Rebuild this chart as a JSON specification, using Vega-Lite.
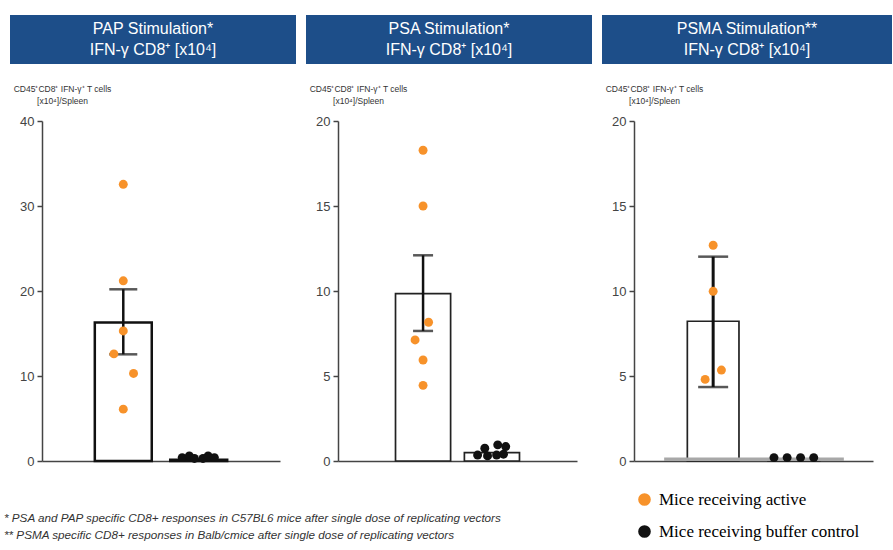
{
  "$schema": "https://vega.github.io/schema/vega-lite/v6.json",
  "padding": {"left": 4, "top": 15, "right": 0, "bottom": 0},
  "background": "white",
  "config": {
    "view": {"stroke": null},
    "font": "Liberation Sans",
    "legend": {"orient": "none", "legendX": 626, "legendY": 476, "symbolType": "circle", "symbolSize": 160, "labelFont": "Liberation Serif", "labelFontSize": 17, "labelColor": "#000", "labelLimit": 0, "rowPadding": 14, "labelOffset": 6, "symbolStrokeWidth": 0, "padding": 0},
    "axisY": {"offset": -32, "grid": false, "tickSize": 5, "tickColor": "#444", "tickWidth": 1.5, "domainColor": "#444", "domainWidth": 1.5, "labelFontSize": 13, "labelColor": "#444", "labelPadding": 3, "titleAngle": 0, "titleAlign": "center", "titleBaseline": "top", "titleX": 20, "titleY": -37, "titleFontSize": 8.5, "titleFontWeight": "normal", "titleColor": "#333", "titleLineHeight": 12},
    "axisX": {"title": null, "labels": false, "ticks": false, "domainColor": "#444", "domainWidth": 1.5, "grid": false}
  },
  "datasets": {
    "headers": [
      {"panel": "PAP", "line": 1, "text": "PAP Stimulation*"},
      {"panel": "PAP", "line": 2, "text": "IFN-γ CD8⁺ [x10⁴]"},
      {"panel": "PSA", "line": 1, "text": "PSA Stimulation*"},
      {"panel": "PSA", "line": 2, "text": "IFN-γ CD8⁺ [x10⁴]"},
      {"panel": "PSMA", "line": 1, "text": "PSMA Stimulation**"},
      {"panel": "PSMA", "line": 2, "text": "IFN-γ CD8⁺ [x10⁴]"}
    ],
    "bars": [
      {"panel": "PAP", "group": "Mice receiving active", "mean": 16.3, "lo": 12.55, "hi": 20.2},
      {"panel": "PAP", "group": "Mice receiving buffer control", "mean": 0.15, "lo": null, "hi": null},
      {"panel": "PSA", "group": "Mice receiving active", "mean": 9.85, "lo": 7.65, "hi": 12.1},
      {"panel": "PSA", "group": "Mice receiving buffer control", "mean": 0.49, "lo": null, "hi": null},
      {"panel": "PSMA", "group": "Mice receiving active", "mean": 8.22, "lo": 4.35, "hi": 12.02},
      {"panel": "PSMA", "group": "Mice receiving buffer control", "mean": 0.1, "lo": null, "hi": null}
    ],
    "points": [
      {"panel": "PAP", "group": "Mice receiving active", "value": 32.55, "jitter": 0},
      {"panel": "PAP", "group": "Mice receiving active", "value": 21.2, "jitter": 0},
      {"panel": "PAP", "group": "Mice receiving active", "value": 15.3, "jitter": 0},
      {"panel": "PAP", "group": "Mice receiving active", "value": 12.6, "jitter": -0.33},
      {"panel": "PAP", "group": "Mice receiving active", "value": 10.3, "jitter": 0.36},
      {"panel": "PAP", "group": "Mice receiving active", "value": 6.1, "jitter": 0},
      {"panel": "PAP", "group": "Mice receiving buffer control", "value": 0.4, "jitter": -0.58},
      {"panel": "PAP", "group": "Mice receiving buffer control", "value": 0.6, "jitter": -0.33},
      {"panel": "PAP", "group": "Mice receiving buffer control", "value": 0.3, "jitter": -0.15},
      {"panel": "PAP", "group": "Mice receiving buffer control", "value": 0.3, "jitter": 0.15},
      {"panel": "PAP", "group": "Mice receiving buffer control", "value": 0.6, "jitter": 0.33},
      {"panel": "PAP", "group": "Mice receiving buffer control", "value": 0.4, "jitter": 0.55},
      {"panel": "PSA", "group": "Mice receiving active", "value": 18.28, "jitter": 0},
      {"panel": "PSA", "group": "Mice receiving active", "value": 15.0, "jitter": 0},
      {"panel": "PSA", "group": "Mice receiving active", "value": 8.16, "jitter": 0.2},
      {"panel": "PSA", "group": "Mice receiving active", "value": 7.12, "jitter": -0.29},
      {"panel": "PSA", "group": "Mice receiving active", "value": 5.94, "jitter": 0},
      {"panel": "PSA", "group": "Mice receiving active", "value": 4.45, "jitter": 0},
      {"panel": "PSA", "group": "Mice receiving buffer control", "value": 0.35, "jitter": -0.52},
      {"panel": "PSA", "group": "Mice receiving buffer control", "value": 0.75, "jitter": -0.26},
      {"panel": "PSA", "group": "Mice receiving buffer control", "value": 0.3, "jitter": -0.16},
      {"panel": "PSA", "group": "Mice receiving buffer control", "value": 0.35, "jitter": 0.17},
      {"panel": "PSA", "group": "Mice receiving buffer control", "value": 0.95, "jitter": 0.21},
      {"panel": "PSA", "group": "Mice receiving buffer control", "value": 0.85, "jitter": 0.5},
      {"panel": "PSA", "group": "Mice receiving buffer control", "value": 0.4, "jitter": 0.42},
      {"panel": "PSMA", "group": "Mice receiving active", "value": 12.69, "jitter": 0},
      {"panel": "PSMA", "group": "Mice receiving active", "value": 9.98, "jitter": 0},
      {"panel": "PSMA", "group": "Mice receiving active", "value": 5.35, "jitter": 0.32},
      {"panel": "PSMA", "group": "Mice receiving active", "value": 4.8, "jitter": -0.31},
      {"panel": "PSMA", "group": "Mice receiving buffer control", "value": 0.2, "jitter": -0.77},
      {"panel": "PSMA", "group": "Mice receiving buffer control", "value": 0.2, "jitter": -0.26},
      {"panel": "PSMA", "group": "Mice receiving buffer control", "value": 0.2, "jitter": 0.26},
      {"panel": "PSMA", "group": "Mice receiving buffer control", "value": 0.2, "jitter": 0.77}
    ],
    "notes": [
      {"line": 1, "text": "* PSA and PAP specific CD8+ responses in C57BL6 mice after single dose of  replicating vectors"},
      {"line": 2, "text": "** PSMA specific CD8+ responses in Balb/cmice after single dose of  replicating vectors"}
    ]
  },
  "resolve": {"scale": {"color": "shared"}, "legend": {"color": "shared"}},
  "spacing": 41,
  "vconcat": [
    {
      "spacing": 10,
      "resolve": {"scale": {"color": "shared"}, "legend": {"color": "shared"}},
      "hconcat": [
        {
          "spacing": 20,
          "resolve": {"scale": {"color": "shared"}, "legend": {"color": "shared"}},
          "vconcat": [
            {
              "width": 286, "height": 49,
              "view": {"fill": "#1d4e89", "stroke": null},
              "data": {"name": "headers"},
              "transform": [{"filter": "datum.panel === 'PAP'"}],
              "mark": {"type": "text", "color": "white", "font": "Liberation Sans", "fontSize": 16},
              "encoding": {
                "y": {"field": "line", "type": "ordinal", "axis": null, "scale": {"padding": 0.65}},
                "x": {"datum": 0.5, "type": "quantitative", "scale": {"domain": [0, 1]}, "axis": null},
                "text": {"field": "text"}
              }
            },
            {
              "width": 270, "height": 340,
              "resolve": {"scale": {"xOffset": "independent", "color": "shared"}},
              "encoding": {
                "x": {"field": "group", "type": "nominal", "scale": {"domain": ["Mice receiving active", "Mice receiving buffer control"], "range": [32, 270], "paddingInner": 0.245, "paddingOuter": 0.7}}
              },
              "layer": [
                {
                  "data": {"name": "bars"},
                  "transform": [{"filter": "datum.panel === 'PAP'"}],
                  "mark": {"type": "bar", "fill": "white", "stroke": "#111", "strokeWidth": 2.5},
                  "encoding": {"y": {"field": "mean", "type": "quantitative", "scale": {"domain": [0, 40]}, "axis": {"title": ["CD45⁺CD8⁺ IFN-γ⁺ T cells", "[x10⁴]/Spleen"], "values": [0, 10, 20, 30, 40]}}}
                },
                {
                  "data": {"name": "bars"},
                  "transform": [{"filter": "datum.panel === 'PAP' && isValid(datum.hi)"}],
                  "mark": {"type": "rule", "color": "#111", "strokeWidth": 2.5},
                  "encoding": {"y": {"field": "lo", "type": "quantitative", "axis": {"title": ["CD45⁺CD8⁺ IFN-γ⁺ T cells", "[x10⁴]/Spleen"], "values": [0, 10, 20, 30, 40]}}, "y2": {"field": "hi"}}
                },
                {
                  "data": {"name": "bars"},
                  "transform": [{"filter": "datum.panel === 'PAP' && isValid(datum.hi)"}],
                  "mark": {"type": "tick", "color": "#111", "size": 28, "thickness": 2.5},
                  "encoding": {"y": {"field": "hi", "type": "quantitative", "axis": {"title": ["CD45⁺CD8⁺ IFN-γ⁺ T cells", "[x10⁴]/Spleen"], "values": [0, 10, 20, 30, 40]}}}
                },
                {
                  "data": {"name": "bars"},
                  "transform": [{"filter": "datum.panel === 'PAP' && isValid(datum.lo)"}],
                  "mark": {"type": "tick", "color": "#111", "size": 28, "thickness": 2.5},
                  "encoding": {"y": {"field": "lo", "type": "quantitative", "axis": {"title": ["CD45⁺CD8⁺ IFN-γ⁺ T cells", "[x10⁴]/Spleen"], "values": [0, 10, 20, 30, 40]}}}
                },
                {
                  "data": {"name": "points"},
                  "transform": [{"filter": "datum.panel === 'PAP'"}],
                  "mark": {"type": "circle", "size": 80, "opacity": 1},
                  "encoding": {
                    "y": {"field": "value", "type": "quantitative", "axis": {"title": ["CD45⁺CD8⁺ IFN-γ⁺ T cells", "[x10⁴]/Spleen"], "values": [0, 10, 20, 30, 40]}},
                    "xOffset": {"field": "jitter", "type": "quantitative", "scale": {"domain": [-1, 1]}},
                    "color": {"field": "group", "type": "nominal", "scale": {"domain": ["Mice receiving active", "Mice receiving buffer control"], "range": ["#F7922A", "#111111"]}, "legend": {"title": null}}
                  }
                }
              ]
            }
          ]
        },
        {
          "spacing": 20,
          "resolve": {"scale": {"color": "shared"}, "legend": {"color": "shared"}},
          "vconcat": [
            {
              "width": 286, "height": 49,
              "view": {"fill": "#1d4e89", "stroke": null},
              "data": {"name": "headers"},
              "transform": [{"filter": "datum.panel === 'PSA'"}],
              "mark": {"type": "text", "color": "white", "font": "Liberation Sans", "fontSize": 16},
              "encoding": {
                "y": {"field": "line", "type": "ordinal", "axis": null, "scale": {"padding": 0.65}},
                "x": {"datum": 0.5, "type": "quantitative", "scale": {"domain": [0, 1]}, "axis": null},
                "text": {"field": "text"}
              }
            },
            {
              "width": 271, "height": 340,
              "resolve": {"scale": {"xOffset": "independent", "color": "shared"}},
              "encoding": {
                "x": {"field": "group", "type": "nominal", "scale": {"domain": ["Mice receiving active", "Mice receiving buffer control"], "range": [32, 271], "paddingInner": 0.2, "paddingOuter": 0.835}}
              },
              "layer": [
                {
                  "data": {"name": "bars"},
                  "transform": [{"filter": "datum.panel === 'PSA'"}],
                  "mark": {"type": "bar", "fill": "white", "stroke": "#222", "strokeWidth": 1.7},
                  "encoding": {"y": {"field": "mean", "type": "quantitative", "scale": {"domain": [0, 20]}, "axis": {"title": ["CD45⁺CD8⁺ IFN-γ⁺ T cells", "[x10⁴]/Spleen"], "values": [0, 5, 10, 15, 20]}}}
                },
                {
                  "data": {"name": "bars"},
                  "transform": [{"filter": "datum.panel === 'PSA' && isValid(datum.hi)"}],
                  "mark": {"type": "rule", "color": "#111", "strokeWidth": 2.5},
                  "encoding": {"y": {"field": "lo", "type": "quantitative", "axis": {"title": ["CD45⁺CD8⁺ IFN-γ⁺ T cells", "[x10⁴]/Spleen"], "values": [0, 5, 10, 15, 20]}}, "y2": {"field": "hi"}}
                },
                {
                  "data": {"name": "bars"},
                  "transform": [{"filter": "datum.panel === 'PSA' && isValid(datum.hi)"}],
                  "mark": {"type": "tick", "color": "#111", "size": 20, "thickness": 2.5},
                  "encoding": {"y": {"field": "hi", "type": "quantitative", "axis": {"title": ["CD45⁺CD8⁺ IFN-γ⁺ T cells", "[x10⁴]/Spleen"], "values": [0, 5, 10, 15, 20]}}}
                },
                {
                  "data": {"name": "bars"},
                  "transform": [{"filter": "datum.panel === 'PSA' && isValid(datum.lo)"}],
                  "mark": {"type": "tick", "color": "#111", "size": 20, "thickness": 2.5},
                  "encoding": {"y": {"field": "lo", "type": "quantitative", "axis": {"title": ["CD45⁺CD8⁺ IFN-γ⁺ T cells", "[x10⁴]/Spleen"], "values": [0, 5, 10, 15, 20]}}}
                },
                {
                  "data": {"name": "points"},
                  "transform": [{"filter": "datum.panel === 'PSA'"}],
                  "mark": {"type": "circle", "size": 80, "opacity": 1},
                  "encoding": {
                    "y": {"field": "value", "type": "quantitative", "axis": {"title": ["CD45⁺CD8⁺ IFN-γ⁺ T cells", "[x10⁴]/Spleen"], "values": [0, 5, 10, 15, 20]}},
                    "xOffset": {"field": "jitter", "type": "quantitative", "scale": {"domain": [-1, 1]}},
                    "color": {"field": "group", "type": "nominal", "scale": {"domain": ["Mice receiving active", "Mice receiving buffer control"], "range": ["#F7922A", "#111111"]}, "legend": {"title": null}}
                  }
                }
              ]
            }
          ]
        },
        {
          "spacing": 20,
          "resolve": {"scale": {"color": "shared"}, "legend": {"color": "shared"}},
          "vconcat": [
            {
              "width": 290, "height": 49,
              "view": {"fill": "#1d4e89", "stroke": null},
              "data": {"name": "headers"},
              "transform": [{"filter": "datum.panel === 'PSMA'"}],
              "mark": {"type": "text", "color": "white", "font": "Liberation Sans", "fontSize": 16},
              "encoding": {
                "y": {"field": "line", "type": "ordinal", "axis": null, "scale": {"padding": 0.65}},
                "x": {"datum": 0.5, "type": "quantitative", "scale": {"domain": [0, 1]}, "axis": null},
                "text": {"field": "text"}
              }
            },
            {
              "width": 271, "height": 340,
              "resolve": {"scale": {"xOffset": "independent", "color": "shared"}},
              "encoding": {
                "x": {"field": "group", "type": "nominal", "scale": {"domain": ["Mice receiving active", "Mice receiving buffer control"], "range": [32, 271], "paddingInner": 0.36, "paddingOuter": 0.661}}
              },
              "layer": [
                {
                  "data": {"name": "bars"},
                  "transform": [{"filter": "datum.panel === 'PSMA'"}],
                  "mark": {"type": "bar", "fill": "white", "stroke": "#222", "strokeWidth": 1.7},
                  "encoding": {"y": {"field": "mean", "type": "quantitative", "scale": {"domain": [0, 20]}, "axis": {"title": ["CD45⁺CD8⁺ IFN-γ⁺ T cells", "[x10⁴]/Spleen"], "values": [0, 5, 10, 15, 20]}}}
                },
                {
                  "data": {"name": "bars"},
                  "transform": [{"filter": "datum.panel === 'PSMA' && !isValid(datum.hi)"}],
                  "mark": {"type": "rule", "color": "#a8a8a8", "strokeWidth": 3.5, "xOffset": -49, "x2Offset": 50},
                  "encoding": {"x": {"datum": "Mice receiving active"}, "x2": {"datum": "Mice receiving buffer control"}, "y": {"field": "mean", "type": "quantitative", "axis": {"title": ["CD45⁺CD8⁺ IFN-γ⁺ T cells", "[x10⁴]/Spleen"], "values": [0, 5, 10, 15, 20]}}}
                },
                {
                  "data": {"name": "bars"},
                  "transform": [{"filter": "datum.panel === 'PSMA' && isValid(datum.hi)"}],
                  "mark": {"type": "rule", "color": "#111", "strokeWidth": 3},
                  "encoding": {"y": {"field": "lo", "type": "quantitative", "axis": {"title": ["CD45⁺CD8⁺ IFN-γ⁺ T cells", "[x10⁴]/Spleen"], "values": [0, 5, 10, 15, 20]}}, "y2": {"field": "hi"}}
                },
                {
                  "data": {"name": "bars"},
                  "transform": [{"filter": "datum.panel === 'PSMA' && isValid(datum.hi)"}],
                  "mark": {"type": "tick", "color": "#111", "size": 30, "thickness": 2.5},
                  "encoding": {"y": {"field": "hi", "type": "quantitative", "axis": {"title": ["CD45⁺CD8⁺ IFN-γ⁺ T cells", "[x10⁴]/Spleen"], "values": [0, 5, 10, 15, 20]}}}
                },
                {
                  "data": {"name": "bars"},
                  "transform": [{"filter": "datum.panel === 'PSMA' && isValid(datum.lo)"}],
                  "mark": {"type": "tick", "color": "#111", "size": 30, "thickness": 2.5},
                  "encoding": {"y": {"field": "lo", "type": "quantitative", "axis": {"title": ["CD45⁺CD8⁺ IFN-γ⁺ T cells", "[x10⁴]/Spleen"], "values": [0, 5, 10, 15, 20]}}}
                },
                {
                  "data": {"name": "points"},
                  "transform": [{"filter": "datum.panel === 'PSMA'"}],
                  "mark": {"type": "circle", "size": 80, "opacity": 1},
                  "encoding": {
                    "y": {"field": "value", "type": "quantitative", "axis": {"title": ["CD45⁺CD8⁺ IFN-γ⁺ T cells", "[x10⁴]/Spleen"], "values": [0, 5, 10, 15, 20]}},
                    "xOffset": {"field": "jitter", "type": "quantitative", "scale": {"domain": [-1, 1]}},
                    "color": {"field": "group", "type": "nominal", "scale": {"domain": ["Mice receiving active", "Mice receiving buffer control"], "range": ["#F7922A", "#111111"]}, "legend": {"title": null}}
                  }
                }
              ]
            }
          ]
        }
      ]
    },
    {
      "width": 600, "height": 34,
      "data": {"name": "notes"},
      "mark": {"type": "text", "align": "left", "fontStyle": "italic", "fontSize": 11.7, "color": "#333", "dx": -6},
      "encoding": {
        "y": {"field": "line", "type": "ordinal", "axis": null, "scale": {"padding": 0.5}},
        "x": {"datum": 0, "type": "quantitative", "scale": {"domain": [0, 1]}, "axis": null},
        "text": {"field": "text"}
      }
    }
  ]
}
